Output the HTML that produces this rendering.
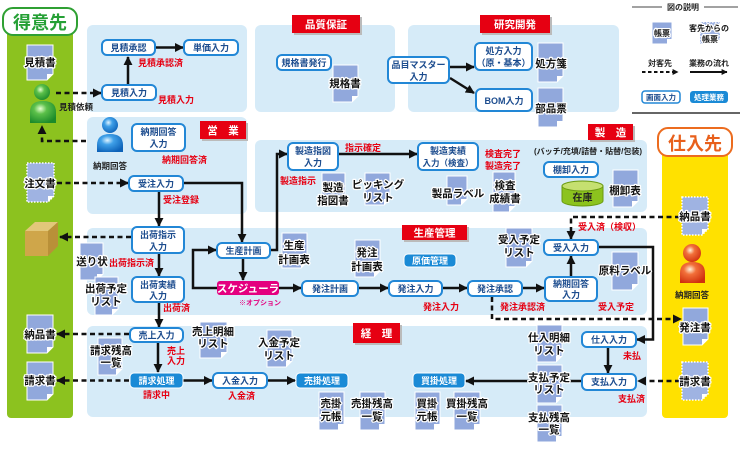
<!DOCTYPE html>
<html><head><meta charset="utf-8">
<style>
html,body{margin:0;padding:0;background:#fff;}
svg{display:block;}
text{font-family:"Liberation Sans","Noto Sans CJK JP",sans-serif;font-weight:bold;}
.pn{fill:#d6ebf8;}
.bx{fill:#fff;stroke:#2287d6;stroke-width:2;}
.bt{fill:#1c4c8e;font-size:9px;text-anchor:middle;}
.pb{fill:#1a8ad6;stroke:#fff;stroke-width:1;}
.pt{fill:#fff;font-size:9px;text-anchor:middle;}
.rt{fill:#e60012;font-size:9px;}
.dt{fill:#111;font-size:10.5px;text-anchor:middle;stroke:#fff;stroke-width:2.5;paint-order:stroke;stroke-linejoin:round;}
.doc{fill:#91a8dc;stroke:#fff;stroke-width:1;}
.docd{fill:#9fb3e2;stroke:#fff;stroke-width:1.5;stroke-dasharray:1.5 1.5;}
.fold{fill:#fff;}
.ln{fill:none;stroke:#111;stroke-width:2.5;}
.dl{fill:none;stroke:#111;stroke-width:2.5;stroke-dasharray:5 3.5;}
.lbl{fill:#e60012;}
.lsh{fill:#bbb;}
.lt{fill:#fff;font-size:10.5px;text-anchor:middle;}
.lg{fill:#222;font-size:8px;text-anchor:middle;}
</style></head><body>
<svg width="740" height="450" viewBox="0 0 740 450" xmlns="http://www.w3.org/2000/svg">
<defs>
<marker id="ah" viewBox="0 0 10 10" markerWidth="9" markerHeight="9" refX="9" refY="5" orient="auto" markerUnits="userSpaceOnUse"><path d="M0,0 L10,5 L0,10 z" fill="#111"/></marker>
<marker id="ahs" viewBox="0 0 10 10" markerWidth="6" markerHeight="6" refX="9" refY="5" orient="auto" markerUnits="userSpaceOnUse"><path d="M0,0 L10,5 L0,10 z" fill="#111"/></marker>
<radialGradient id="gG" cx="0.4" cy="0.35" r="0.7"><stop offset="0" stop-color="#e6ffd0"/><stop offset="0.35" stop-color="#5cc04a"/><stop offset="1" stop-color="#1b8a2a"/></radialGradient>
<radialGradient id="gB" cx="0.4" cy="0.35" r="0.7"><stop offset="0" stop-color="#e0f4ff"/><stop offset="0.35" stop-color="#3fa0e8"/><stop offset="1" stop-color="#0d62b8"/></radialGradient>
<radialGradient id="gR" cx="0.4" cy="0.35" r="0.7"><stop offset="0" stop-color="#fff0d8"/><stop offset="0.35" stop-color="#f2703a"/><stop offset="1" stop-color="#d0300e"/></radialGradient>
</defs>

<!-- panels -->
<rect class="pn" x="87" y="25" width="160" height="87" rx="6"/>
<rect class="pn" x="87" y="117" width="160" height="97" rx="6"/>
<rect class="pn" x="255" y="25" width="140" height="87" rx="6"/>
<rect class="pn" x="408" y="25" width="211" height="87" rx="6"/>
<rect class="pn" x="255" y="140" width="392" height="72" rx="6"/>
<rect class="pn" x="87" y="228" width="560" height="87" rx="6"/>
<rect class="pn" x="87" y="326" width="560" height="91" rx="6"/>

<!-- customer column -->
<rect x="7" y="28" width="66" height="390" rx="4" fill="#8cc21f"/>
<rect x="3" y="8" width="74" height="27" rx="10" fill="#fff" stroke="#2fa033" stroke-width="2"/>
<text x="40" y="29" font-size="18" fill="#25a035" text-anchor="middle">得意先</text>

<!-- supplier column -->
<rect x="662" y="140" width="66" height="278" rx="4" fill="#ffe100"/>
<rect x="658" y="128" width="74" height="28" rx="10" fill="#fff" stroke="#ec6c1f" stroke-width="2"/>
<text x="695" y="150" font-size="18" fill="#e8601c" text-anchor="middle">仕入先</text>

<!-- legend -->
<line x1="632" y1="7" x2="662" y2="7" stroke="#444" stroke-width="1"/>
<line x1="704" y1="7" x2="738" y2="7" stroke="#444" stroke-width="1"/>
<text class="lg" x="683" y="10">図の説明</text>
<path class="doc" d="M652,22H672V39L667,44H652Z"/><path class="fold" d="M667,44V39H672Z"/>
<text class="dt" style="font-size:8px" x="662" y="36">帳票</text>
<path class="docd" d="M700,22H720V39L715,44H700Z"/>
<text class="dt" style="font-size:8px" x="709" y="31">客先からの</text>
<text class="dt" style="font-size:8px" x="710" y="42">帳票</text>
<text class="lg" x="660" y="66">対客先</text>
<text class="lg" x="709" y="66">業務の流れ</text>
<line x1="642" y1="72" x2="678" y2="72" stroke="#111" stroke-width="2" stroke-dasharray="3.5 2.5" marker-end="url(#ahs)"/>
<line x1="690" y1="72" x2="727" y2="72" stroke="#111" stroke-width="2" marker-end="url(#ahs)"/>
<rect x="642" y="91" width="38" height="12" rx="3" fill="#fff" stroke="#2287d6" stroke-width="1.5"/>
<text x="661" y="100" font-size="7.5" fill="#1c4c8e" text-anchor="middle">画面入力</text>
<rect x="690" y="91" width="38" height="12" rx="3" fill="#1a8ad6"/>
<text x="709" y="100" font-size="7.5" fill="#fff" text-anchor="middle">処理業務</text>
<line x1="632" y1="113" x2="740" y2="113" stroke="#666" stroke-width="2"/>

<!-- solid connectors -->
<line class="ln" x1="155" y1="47.5" x2="183" y2="47.5" marker-end="url(#ah)"/>
<line class="ln" x1="128" y1="85" x2="128" y2="57" marker-end="url(#ah)"/>
<line class="ln" x1="159" y1="191" x2="159" y2="226" marker-end="url(#ah)"/>
<polyline class="ln" points="183,183 242,183 242,242" marker-end="url(#ah)"/>
<line class="ln" x1="159" y1="253" x2="159" y2="276" marker-end="url(#ah)"/>
<line class="ln" x1="159" y1="302" x2="159" y2="327" marker-end="url(#ah)"/>
<line class="ln" x1="158" y1="342" x2="158" y2="372" marker-end="url(#ah)"/>
<line class="ln" x1="183" y1="380.5" x2="212" y2="380.5" marker-end="url(#ah)"/>
<line class="ln" x1="267" y1="380.5" x2="295" y2="380.5" marker-end="url(#ah)"/>
<line class="ln" x1="243" y1="258" x2="243" y2="280" marker-end="url(#ah)"/>
<polyline class="ln" points="217,288 193,288 193,250 216,250" marker-end="url(#ah)"/>
<line class="ln" x1="279" y1="288" x2="301" y2="288" marker-end="url(#ah)"/>
<line class="ln" x1="358" y1="288" x2="388" y2="288" marker-end="url(#ah)"/>
<line class="ln" x1="442" y1="288" x2="467" y2="288" marker-end="url(#ah)"/>
<line class="ln" x1="522" y1="288" x2="544" y2="288" marker-end="url(#ah)"/>
<line class="ln" x1="571" y1="277" x2="571" y2="256" marker-end="url(#ah)"/>
<polyline class="ln" points="270,250 277,250 277,154 287,154" marker-end="url(#ah)"/>
<line class="ln" x1="338" y1="154" x2="417" y2="154" marker-end="url(#ah)"/>
<polyline class="ln" points="598,247 653,247 653,339.5 637,339.5" marker-end="url(#ah)"/>
<line class="ln" x1="608" y1="347" x2="608" y2="373" marker-end="url(#ah)"/>
<line class="ln" x1="582" y1="381" x2="466" y2="381" marker-end="url(#ah)"/>
<line class="ln" x1="450" y1="67" x2="474" y2="67" marker-end="url(#ah)"/>
<line class="ln" x1="450" y1="78" x2="474" y2="93" marker-end="url(#ah)"/>

<!-- dashed connectors -->
<line class="dl" x1="56" y1="93" x2="101" y2="93" marker-end="url(#ah)"/>
<polyline class="dl" points="86,141 42,141 42,126" marker-end="url(#ah)"/>
<line class="dl" x1="57" y1="183" x2="128" y2="183" marker-end="url(#ah)"/>
<line class="dl" x1="131" y1="237" x2="60" y2="237" marker-end="url(#ah)"/>
<line class="dl" x1="129" y1="334" x2="57" y2="334" marker-end="url(#ah)"/>
<line class="dl" x1="129" y1="380.5" x2="57" y2="380.5" marker-end="url(#ah)"/>
<polyline class="dl" points="680,217 571,217 571,239" marker-end="url(#ah)"/>
<polyline class="dl" points="492,297 492,319 681,319" marker-end="url(#ah)"/>
<line class="dl" x1="680" y1="381" x2="638" y2="381" marker-end="url(#ah)"/>

<!-- people -->
<circle cx="42" cy="92" r="8" fill="url(#gG)"/>
<path d="M30,123 L30,112 Q30,101 43,101 Q56,101 56,112 L56,123 Z" fill="url(#gG)"/>
<circle cx="110" cy="125" r="8" fill="url(#gB)"/>
<path d="M97,152 L97,145 Q97,134 110,134 Q123,134 123,145 L123,152 Z" fill="url(#gB)"/>
<circle cx="692" cy="253" r="9" fill="url(#gR)"/>
<path d="M680,283 L680,273 Q680,262 692.5,262 Q705,262 705,273 L705,283 Z" fill="url(#gR)"/>
<text x="59" y="110" font-size="8.5" fill="#222">見積依頼</text>
<text x="110" y="169" font-size="8.5" fill="#222" text-anchor="middle">納期回答</text>
<text x="692" y="298" font-size="8.5" fill="#222" text-anchor="middle">納期回答</text>

<!-- cardboard box -->
<polygon points="25,231 35,222 58,222 48,231" fill="#e2c77a"/>
<rect x="25" y="231" width="23" height="25" fill="#cfa64a"/>
<polygon points="48,231 58,222 58,246 48,256" fill="#b99038"/>

<!-- stock cylinder -->
<path d="M562,186 V201 A20.5,5 0 0 0 603,201 V186 Z" fill="#8cc31e" stroke="#6a9a10" stroke-width="1"/>
<ellipse cx="582.5" cy="186" rx="20.5" ry="5" fill="#c5e070" stroke="#6a9a10" stroke-width="1"/>
<text x="582.5" y="201" font-size="10" fill="#222" text-anchor="middle">在庫</text>

<!-- documents -->
<path class="doc" d="M27,45H53V74L47,80H27Z"/><path class="fold" d="M47,80V74H53Z"/><text class="dt" x="40" y="66">見積書</text>
<path class="docd" d="M27,163H54V196L48,202H27Z"/><path class="fold" d="M48,202V196H54Z"/><text class="dt" x="40" y="187">注文書</text>
<path class="doc" d="M80,243H103V274L97,280H80Z"/><path class="fold" d="M97,280V274H103Z"/><text class="dt" x="92" y="265">送り状</text>
<path class="doc" d="M95,277H118V309L112,315H95Z"/><path class="fold" d="M112,315V309H118Z"/><text class="dt" x="106" y="292">出荷予定</text><text class="dt" x="106" y="305">リスト</text>
<path class="doc" d="M27,315H53V347L47,353H27Z"/><path class="fold" d="M47,353V347H53Z"/><text class="dt" x="40" y="338">納品書</text>
<path class="doc" d="M27,362H53V394L47,400H27Z"/><path class="fold" d="M47,400V394H53Z"/><text class="dt" x="40" y="384">請求書</text>
<path class="doc" d="M98,338H122V369L116,375H98Z"/><path class="fold" d="M116,375V369H122Z"/><text class="dt" x="111" y="354">請求残高</text><text class="dt" x="111" y="366">一覧</text>
<path class="doc" d="M200,322H227V352L221,358H200Z"/><path class="fold" d="M221,358V352H227Z"/><text class="dt" x="213" y="335">売上明細</text><text class="dt" x="213" y="347">リスト</text>
<path class="doc" d="M267,330H292V361L286,367H267Z"/><path class="fold" d="M286,367V361H292Z"/><text class="dt" x="279" y="346">入金予定</text><text class="dt" x="279" y="359">リスト</text>
<path class="doc" d="M319,392H344V424L338,430H319Z"/><path class="fold" d="M338,430V424H344Z"/><text class="dt" x="331" y="407">売掛</text><text class="dt" x="331" y="420">元帳</text>
<path class="doc" d="M360,392H385V424L379,430H360Z"/><path class="fold" d="M379,430V424H385Z"/><text class="dt" x="372" y="407">売掛残高</text><text class="dt" x="372" y="420">一覧</text>
<path class="doc" d="M415,392H440V424L434,430H415Z"/><path class="fold" d="M434,430V424H440Z"/><text class="dt" x="427" y="407">買掛</text><text class="dt" x="427" y="420">元帳</text>
<path class="doc" d="M454,392H480V424L474,430H454Z"/><path class="fold" d="M474,430V424H480Z"/><text class="dt" x="467" y="407">買掛残高</text><text class="dt" x="467" y="420">一覧</text>
<path class="doc" d="M537,325H562V356L556,362H537Z"/><path class="fold" d="M556,362V356H562Z"/><text class="dt" x="549" y="341">仕入明細</text><text class="dt" x="549" y="354">リスト</text>
<path class="doc" d="M537,365H562V397L556,403H537Z"/><path class="fold" d="M556,403V397H562Z"/><text class="dt" x="549" y="381">支払予定</text><text class="dt" x="549" y="393">リスト</text>
<path class="doc" d="M537,405H562V436L556,442H537Z"/><path class="fold" d="M556,442V436H562Z"/><text class="dt" x="549" y="421">支払残高</text><text class="dt" x="549" y="433">一覧</text>
<path class="doc" d="M683,308H708V339L702,345H683Z"/><path class="fold" d="M702,345V339H708Z"/><text class="dt" x="695" y="331">発注書</text>
<path class="docd" d="M682,362H708V394L702,400H682Z"/><path class="fold" d="M702,400V394H708Z"/><text class="dt" x="695" y="385">請求書</text>
<path class="docd" d="M682,197H708V229L702,235H682Z"/><path class="fold" d="M702,235V229H708Z"/><text class="dt" x="695" y="220">納品書</text>
<path class="doc" d="M612,252H638V284L632,290H612Z"/><path class="fold" d="M632,290V284H638Z"/><text class="dt" x="625" y="274">原料ラベル</text>
<path class="doc" d="M506,228H532V261L526,267H506Z"/><path class="fold" d="M526,267V261H532Z"/><text class="dt" x="519" y="243">受入予定</text><text class="dt" x="519" y="256">リスト</text>
<path class="doc" d="M355,240H380V271L374,277H355Z"/><path class="fold" d="M374,277V271H380Z"/><text class="dt" x="367" y="256">発注</text><text class="dt" x="367" y="270">計画表</text>
<path class="doc" d="M282,233H307V262L301,268H282Z"/><path class="fold" d="M301,268V262H307Z"/><text class="dt" x="294" y="249">生産</text><text class="dt" x="294" y="263">計画表</text>
<path class="doc" d="M322,173H345V199L339,205H322Z"/><path class="fold" d="M339,205V199H345Z"/><text class="dt" x="333" y="191">製造</text><text class="dt" x="333" y="204">指図書</text>
<path class="doc" d="M365,173H390V199L384,205H365Z"/><path class="fold" d="M384,205V199H390Z"/><text class="dt" x="378" y="188">ピッキング</text><text class="dt" x="378" y="201">リスト</text>
<path class="doc" d="M447,176H467V199L461,205H447Z"/><path class="fold" d="M461,205V199H467Z"/><text class="dt" x="458" y="197">製品ラベル</text>
<path class="doc" d="M493,172H515V206L509,212H493Z"/><path class="fold" d="M509,212V206H515Z"/><text class="dt" x="505" y="189">検査</text><text class="dt" x="505" y="202">成績書</text>
<path class="doc" d="M613,170H638V201L632,207H613Z"/><path class="fold" d="M632,207V201H638Z"/><text class="dt" x="625" y="194">棚卸表</text>
<path class="doc" d="M333,65H358V96L352,102H333Z"/><path class="fold" d="M352,102V96H358Z"/><text class="dt" x="345" y="87">規格書</text>
<path class="doc" d="M538,43H563V76L557,82H538Z"/><path class="fold" d="M557,82V76H563Z"/><text class="dt" x="551" y="67">処方箋</text>
<path class="doc" d="M538,88H563V121L557,127H538Z"/><path class="fold" d="M557,127V121H563Z"/><text class="dt" x="551" y="112">部品票</text>

<!-- input boxes -->
<rect class="bx" x="102" y="40" width="53" height="15" rx="5"/><text class="bt" x="128.5" y="51">見積承認</text>
<rect class="bx" x="184" y="40" width="54" height="15" rx="5"/><text class="bt" x="211" y="51">単価入力</text>
<rect class="bx" x="102" y="85" width="54" height="15" rx="5"/><text class="bt" x="129" y="96">見積入力</text>
<rect class="bx" x="132" y="124" width="53" height="27" rx="5"/><text class="bt" x="158.5" y="135">納期回答</text><text class="bt" x="158.5" y="147">入力</text>
<rect class="bx" x="129" y="176" width="54" height="15" rx="5"/><text class="bt" x="156" y="187">受注入力</text>
<rect class="bx" x="132" y="227" width="52" height="26" rx="5"/><text class="bt" x="158" y="238">出荷指示</text><text class="bt" x="158" y="250">入力</text>
<rect class="bx" x="132" y="277" width="52" height="25" rx="5"/><text class="bt" x="158" y="288">出荷実績</text><text class="bt" x="158" y="299">入力</text>
<rect class="bx" x="130" y="328" width="53" height="14" rx="5"/><text class="bt" x="156.5" y="338.5">売上入力</text>
<rect class="bx" x="217" y="243" width="53" height="15" rx="5"/><text class="bt" x="243.5" y="254">生産計画</text>
<rect class="bx" x="302" y="281" width="56" height="15" rx="5"/><text class="bt" x="330" y="292">発注計画</text>
<rect class="bx" x="389" y="281" width="53" height="15" rx="5"/><text class="bt" x="415.5" y="292">発注入力</text>
<rect class="bx" x="468" y="281" width="54" height="15" rx="5"/><text class="bt" x="495" y="292">発注承認</text>
<rect class="bx" x="545" y="277" width="52" height="24" rx="5"/><text class="bt" x="571" y="287">納期回答</text><text class="bt" x="571" y="298">入力</text>
<rect class="bx" x="544" y="240" width="54" height="15" rx="5"/><text class="bt" x="571" y="251">受入入力</text>
<rect class="bx" x="288" y="143" width="50" height="27" rx="5"/><text class="bt" x="313" y="154">製造指図</text><text class="bt" x="313" y="166">入力</text>
<rect class="bx" x="418" y="143" width="60" height="27" rx="5"/><text class="bt" x="448" y="154">製造実績</text><text class="bt" x="448" y="166" style="font-size:8.5px">入力（検査）</text>
<rect class="bx" x="544" y="162" width="54" height="15" rx="5"/><text class="bt" x="571" y="173">棚卸入力</text>
<rect class="bx" x="582" y="332" width="54" height="15" rx="5"/><text class="bt" x="609" y="343">仕入入力</text>
<rect class="bx" x="582" y="374" width="54" height="16" rx="5"/><text class="bt" x="609" y="385">支払入力</text>
<rect class="bx" x="277" y="55" width="54" height="15" rx="5"/><text class="bt" x="304" y="66">規格書発行</text>
<rect class="bx" x="388" y="57" width="61" height="26" rx="5"/><text class="bt" x="418.5" y="68">品目マスター</text><text class="bt" x="418.5" y="80">入力</text>
<rect class="bx" x="475" y="43" width="57" height="27" rx="5"/><text class="bt" x="503.5" y="54">処方入力</text><text class="bt" x="503.5" y="66">（原・基本）</text>
<rect class="bx" x="476" y="89" width="56" height="22" rx="5"/><text class="bt" x="504" y="104">BOM入力</text>
<rect class="bx" x="213" y="373" width="54" height="15" rx="5"/><text class="bt" x="240" y="384">入金入力</text>

<!-- process boxes -->
<rect class="pb" x="130" y="373" width="53" height="15" rx="4"/><text class="pt" x="156.5" y="384">請求処理</text>
<rect class="pb" x="296" y="373" width="52" height="15" rx="4"/><text class="pt" x="322" y="384">売掛処理</text>
<rect class="pb" x="413" y="373" width="52" height="15" rx="4"/><text class="pt" x="439" y="384">買掛処理</text>
<rect class="pb" x="404" y="254" width="52" height="13" rx="4"/><text class="pt" x="430" y="264">原価管理</text>
<rect x="217" y="281" width="62" height="14" rx="3" fill="#e4007f"/><text x="248" y="292" font-size="10.5" fill="#fff" text-anchor="middle">スケジューラ</text>
<text x="239" y="305" font-size="7" fill="#e4007f">※オプション</text>

<!-- red labels -->
<rect class="lsh" x="202" y="123" width="46" height="18"/><rect class="lbl" x="200" y="121" width="46" height="18"/><text class="lt" x="223" y="134">営　業</text>
<rect class="lsh" x="294" y="17" width="68" height="18"/><rect class="lbl" x="292" y="15" width="68" height="18"/><text class="lt" x="326" y="28">品質保証</text>
<rect class="lsh" x="482" y="17" width="70" height="18"/><rect class="lbl" x="480" y="15" width="70" height="18"/><text class="lt" x="515" y="28">研究開発</text>
<rect class="lsh" x="590" y="126" width="45" height="16"/><rect class="lbl" x="588" y="124" width="45" height="16"/><text class="lt" x="610.5" y="136">製　造</text>
<rect class="lsh" x="404" y="227" width="65" height="15"/><rect class="lbl" x="402" y="225" width="65" height="15"/><text class="lt" x="434.5" y="236.5">生産管理</text>
<rect class="lsh" x="355" y="325" width="47" height="20"/><rect class="lbl" x="353" y="323" width="47" height="20"/><text class="lt" x="376.5" y="337">経　理</text>

<!-- red status texts -->
<text class="rt" x="138" y="66">見積承認済</text>
<text class="rt" x="158" y="103">見積入力</text>
<text class="rt" x="162" y="163">納期回答済</text>
<text class="rt" x="163" y="203">受注登録</text>
<text class="rt" x="109" y="266">出荷指示済</text>
<text class="rt" x="163" y="311">出荷済</text>
<text class="rt" x="167" y="354">売上</text>
<text class="rt" x="167" y="364">入力</text>
<text class="rt" x="143" y="398">請求中</text>
<text class="rt" x="228" y="399">入金済</text>
<text class="rt" x="280" y="184">製造指示</text>
<text class="rt" x="345" y="151">指示確定</text>
<text class="rt" x="485" y="157">検査完了</text>
<text class="rt" x="485" y="169">製造完了</text>
<text class="rt" x="578" y="230">受入済（検収）</text>
<text class="rt" x="423" y="310">発注入力</text>
<text class="rt" x="500" y="310">発注承認済</text>
<text class="rt" x="598" y="310">受入予定</text>
<text class="rt" x="623" y="359">未払</text>
<text class="rt" x="618" y="402">支払済</text>

<text x="588" y="154" font-size="8" fill="#222" text-anchor="middle">(バッチ/充填/詰替・貼替/包装)</text>
</svg>
</body></html>
